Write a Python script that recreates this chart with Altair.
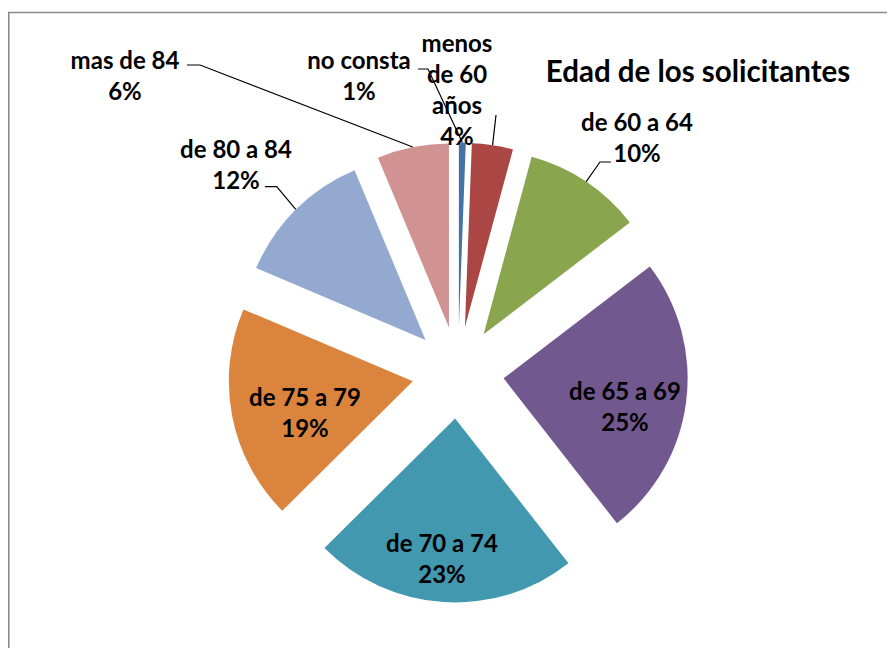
import math
import altair as alt
import pandas as pd

# ---- data ----
categories = ["no consta", "menos de 60 años", "de 60 a 64", "de 65 a 69",
              "de 70 a 74", "de 75 a 79", "de 80 a 84", "mas de 84"]
values = [0.6, 3.6, 10.4, 24.8, 23.1, 18.8, 12.3, 6.3]
name_lines = [["no consta"], ["menos", "de 60", "años"], ["de 60 a 64"], ["de 65 a 69"],
              ["de 70 a 74"], ["de 75 a 79"], ["de 80 a 84"], ["mas de 84"]]
colors = ["#4572A7", "#AA4643", "#89A54E", "#71588F",
          "#4198AF", "#DB843D", "#93A9CF", "#D19392"]
title_text = "Edad de los solicitantes"

# ---- layout ----
W, H = 879, 640
CX, CY = 450, 364.5
R = 184
EXPLODE = 46
FONT = "Lato"
LH = 31
# label block centres relative to pie centre
label_offsets = [(-99, -295), (-1, -281), (179, -233.5), (167, 36),
                 (-16, 187.5), (-153, 41.5), (-222, -206.5), (-333, -295.5)]
# label-side points of leader lines (chart px)
leader_pts = {
    "no consta": [(410, 61), (420, 61)],
    "menos de 60 años": [(488, 107)],
    "de 60 a 64": [(603, 154), (592, 154)],
    "de 80 a 84": [(257, 178.7), (268.7, 178.7)],
    "mas de 84": [(179, 57), (192, 57)],
}

total = sum(values)
pie_df = pd.DataFrame({"category": categories, "value": values,
                       "idx": list(range(len(values)))})

base = alt.Chart(pie_df).transform_joinaggregate(
    total="sum(value)"
).transform_window(
    cum="sum(value)", sort=[alt.SortField("idx")], frame=[None, 0]
).transform_calculate(
    t0="(datum.cum - datum.value) / datum.total",
    t1="datum.cum / datum.total",
    mid="(datum.cum - datum.value / 2) / datum.total",
).transform_calculate(
    cx=f"{CX} + {EXPLODE} * sin(2 * PI * datum.mid)",
    cy=f"{CY} - {EXPLODE} * cos(2 * PI * datum.mid)",
)

arcs = base.mark_arc(outerRadius=R).encode(
    theta=alt.Theta("t0:Q", scale=alt.Scale(domain=[0, 1], range=[0, 2 * math.pi]), stack=False),
    theta2="t1:Q",
    x=alt.X("cx:Q", scale=None),
    y=alt.Y("cy:Q", scale=None),
    color=alt.Color("category:N", scale=alt.Scale(domain=categories, range=colors), legend=None),
)

# ---- labels ----
cum = 0.0
mids = []
for v in values:
    mids.append((cum + v / 2) / total)
    cum += v
label_rows = []
for cat, v, lines, (dx, dy) in zip(categories, values, name_lines, label_offsets):
    pct = f"{round(v / total * 100)}%"
    all_lines = lines + [pct]
    label_rows.append({"category": cat, "lines": all_lines,
                       "lx": CX + dx, "ly": CY + dy - (len(all_lines) - 1) * LH / 2})
labels = alt.Chart(alt.Data(values=label_rows)).mark_text(
    font=FONT, fontSize=24, fontWeight="bold", color="black",
    align="center", baseline="middle", lineHeight=LH,
).encode(
    x=alt.X("lx:Q", scale=None), y=alt.Y("ly:Q", scale=None), text="lines:N"
)

# ---- leader lines ----
leader_rows = []
for cat, m in zip(categories, mids):
    if cat in leader_pts:
        pts = list(leader_pts[cat])
        ang = 2 * math.pi * m
        pts.append((CX + (R + EXPLODE) * math.sin(ang), CY - (R + EXPLODE) * math.cos(ang)))
        for i, (px, py) in enumerate(pts):
            leader_rows.append({"category": cat, "o": i, "px": px, "py": py})
leaders = alt.Chart(pd.DataFrame(leader_rows)).mark_line(
    color="black", strokeWidth=1.2
).encode(
    x=alt.X("px:Q", scale=None), y=alt.Y("py:Q", scale=None),
    detail="category:N", order="o:Q",
)

title = alt.Chart(pd.DataFrame({"t": [title_text]})).mark_text(
    font=FONT, fontSize=29.5, fontWeight="bold", color="black",
    align="center", baseline="middle",
).encode(x=alt.value(690), y=alt.value(65), text="t:N")

border = alt.Chart(pd.DataFrame({"a": [0]})).mark_rect(
    fillOpacity=0, stroke="#8a8a8a", strokeWidth=1.6
).encode(x=alt.value(0.8), x2=alt.value(W + 30), y=alt.value(4.5), y2=alt.value(H + 30))

chart = alt.layer(border, arcs, leaders, labels, title).properties(
    width=W, height=H, padding=0, autosize=alt.AutoSizeParams(type="none")
).configure_view(stroke=None)

chart.save("out.html", embed_options={"renderer": "svg", "actions": False})
